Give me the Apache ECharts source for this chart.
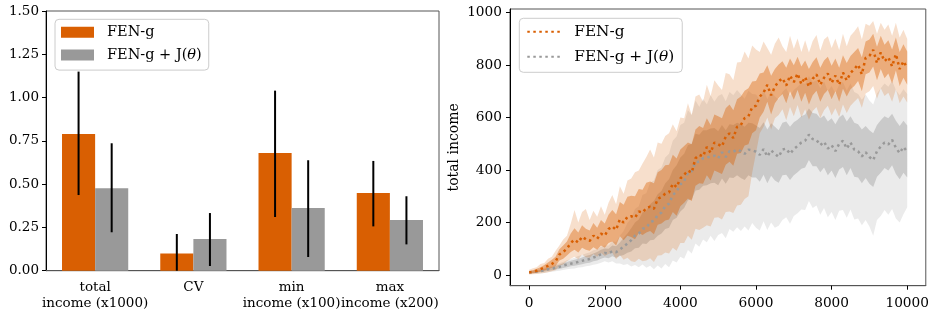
<!DOCTYPE html>
<html><head><meta charset="utf-8">
<script src="https://cdn.jsdelivr.net/npm/echarts@6/dist/echarts.min.js"></script>
<style>html,body{margin:0;padding:0;background:#fff}#c{width:932px;height:314px}</style>
</head><body><div id="c"></div>
<script>
// ---------- left panel data ----------
const barCategories = ['total\nincome (x1000)', 'CV', 'min\nincome (x100)', 'max\nincome (x200)'];
const fenMean     = [0.79, 0.10, 0.68, 0.449];
const fenErrLow   = [0.437, 0.0, 0.31, 0.256];
const fenErrHigh  = [1.15, 0.212, 1.04, 0.634];
const fenjMean    = [0.476, 0.183, 0.362, 0.293];
const fenjErrLow  = [0.222, 0.027, 0.079, 0.152];
const fenjErrHigh = [0.736, 0.333, 0.638, 0.43];
const leftYTicks  = [0, 0.25, 0.5, 0.75, 1.0, 1.25, 1.5];

// ---------- right panel data (step = 100 episodes, 0..10000) ----------
const rightXTicks = [0, 2000, 4000, 6000, 8000, 10000];
const rightYTicks = [0, 200, 400, 600, 800, 1000];
const oMean = [10,12,16,22,28,35,42,52,78,88,100,
  122,135,124,146,136,130,150,138,158,150,
  175,185,172,212,200,222,224,218,242,238,
  256,260,252,290,298,310,315,348,335,368,
  382,398,390,445,458,452,488,466,505,498,
  490,528,540,522,565,572,598,605,640,645,
  680,695,725,685,718,738,750,722,760,735,
  768,728,755,718,748,765,725,752,768,732,
  760,725,772,742,770,785,802,765,828,835,
  858,808,848,815,830,795,842,785,815,788];
const oInLo = [6,7,9,13,17,22,28,34,55,62,74,
  88,96,86,104,96,92,106,96,112,104,
  122,128,112,148,132,150,145,136,160,152,
  162,168,155,192,196,208,212,240,226,262,
  275,292,282,340,350,348,380,360,398,392,
  385,420,432,416,462,465,494,498,540,552,
  600,622,660,612,655,675,690,655,700,668,
  705,660,695,650,685,702,660,690,705,670,
  700,660,710,680,708,720,740,700,765,772,
  795,742,785,750,768,730,780,720,752,725];
const oInHi = [14,18,24,30,38,48,58,70,98,112,128,
  158,178,162,190,176,170,198,180,210,196,
  230,248,232,278,268,298,302,300,328,325,
  352,356,350,392,400,418,420,458,444,478,
  492,505,498,555,568,560,598,572,612,605,
  598,636,650,628,670,680,702,712,738,740,
  768,772,800,760,785,802,815,790,825,800,
  832,795,818,785,812,830,790,818,832,798,
  825,790,838,808,835,850,865,830,890,898,
  920,870,912,878,895,860,905,850,880,852];
const oOutLo = [2,3,4,6,8,10,14,18,35,40,52,
  62,70,60,78,68,66,80,70,84,72,
  80,85,60,76,58,66,52,50,62,52,
  55,64,50,74,75,86,82,104,92,122,
  122,150,134,176,172,180,190,185,218,220,
  212,240,242,236,265,268,290,300,390,465,
  540,565,600,555,598,610,632,590,640,605,
  648,600,632,592,625,640,598,628,645,608,
  636,602,650,618,645,660,675,638,692,700,
  720,672,712,682,695,660,708,655,680,658];
const oOutHi = [20,26,30,42,46,62,70,92,112,135,150,
  195,248,200,240,252,210,245,222,262,230,
  275,305,270,338,310,360,368,392,398,425,
  450,478,448,505,500,530,540,575,548,600,
  598,655,610,680,688,660,725,682,742,722,
  705,770,765,742,810,812,852,825,875,860,
  850,890,865,840,882,905,872,850,912,862,
  902,850,895,848,892,915,855,898,910,865,
  902,858,920,872,912,928,948,898,958,950,
  968,920,962,935,955,912,962,905,935,900];

const gMean = [10,11,13,15,18,22,24,28,31,36,40,
  43,46,50,54,58,61,67,71,79,84,
  82,91,87,97,108,120,133,150,158,176,
  180,200,208,228,238,262,272,305,318,345,
  358,390,395,430,432,445,448,452,455,445,
  468,450,472,470,478,472,462,478,475,470,
  458,480,452,475,462,450,478,482,462,480,
  492,505,512,535,518,515,495,508,482,495,
  472,500,512,482,505,478,472,452,468,450,
  438,472,490,505,498,515,485,465,488,470];
const gInLo = [7,8,9,11,13,16,18,21,23,27,30,
  33,35,38,41,45,47,52,55,62,67,
  64,71,66,72,76,85,90,102,104,120,
  118,132,134,150,158,175,180,210,218,242,
  255,285,288,322,325,340,342,350,352,342,
  368,348,372,370,380,370,362,380,372,372,
  355,382,350,378,360,352,380,382,362,380,
  392,405,410,438,415,415,392,410,380,398,
  370,402,412,380,408,375,372,350,370,348,
  335,375,390,408,398,418,385,365,390,372];
const gInHi = [13,14,17,19,23,28,30,35,39,45,50,
  54,58,62,67,72,76,82,88,96,101,
  100,112,110,124,142,158,178,200,212,238,
  246,270,282,308,320,350,365,400,418,448,
  462,495,500,538,535,552,552,558,560,548,
  572,552,575,572,580,575,565,580,578,570,
  560,582,555,578,565,552,580,585,565,582,
  592,605,612,635,618,615,598,608,585,598,
  575,600,612,585,605,580,575,555,568,552,
  540,572,590,605,598,615,588,568,588,570];
const gOutLo = [4,5,6,7,8,10,12,14,16,19,22,
  24,25,29,30,33,35,39,42,47,52,
  48,52,44,44,38,42,32,38,30,40,
  28,35,22,36,25,42,30,55,48,70,
  62,95,82,120,108,135,125,150,130,152,
  160,140,175,165,182,168,185,170,198,180,
  170,205,172,200,180,188,210,220,195,225,
  235,250,248,282,255,265,230,255,220,240,
  210,245,248,218,250,212,215,190,210,185,
  150,210,225,248,230,252,215,200,232,258];
const gOutHi = [16,18,21,23,28,32,36,40,45,50,56,
  61,66,72,76,82,86,94,98,108,112,
  112,128,126,150,168,198,215,252,262,305,
  312,352,360,400,410,448,462,512,528,572,
  580,628,610,665,640,672,650,685,660,682,
  690,662,698,685,705,688,672,702,690,688,
  668,705,670,700,680,668,698,712,682,705,
  718,732,728,758,735,742,712,738,700,720,
  692,725,735,702,730,698,690,668,688,665,
  650,692,712,730,718,740,705,685,708,690];

const steps = oMean.map((_, i) => i * 100);

// ---------- styling constants ----------
const ORANGE = '#d95f02';
const GRAY = '#999999';
const FONT = 'DejaVu Serif';
const BAR_RATIO = 0.337;

function errRender(sign) {
  return function (params, api) {
    const i = api.value(0);
    const p1 = api.coord([i, api.value(1)]);
    const p2 = api.coord([i, api.value(2)]);
    const half = api.size([1, 0])[0] * BAR_RATIO / 2;
    const x = p1[0] + sign * half;
    return { type: 'line', shape: { x1: x, y1: p1[1], x2: x, y2: p2[1] },
             style: { stroke: '#000', lineWidth: 2 } };
  };
}

function band(lo, hi, color, opacity, z) {
  return {
    type: 'custom', xAxisIndex: 1, yAxisIndex: 1, silent: true, z: z, clip: true,
    encode: { x: 0, y: 1 }, data: [[0, 0]],
    renderItem: function (params, api) {
      const pts = [];
      for (let i = 0; i < steps.length; i++) pts.push(api.coord([steps[i], hi[i]]));
      for (let i = steps.length - 1; i >= 0; i--) pts.push(api.coord([steps[i], lo[i]]));
      return { type: 'polygon', shape: { points: pts }, style: { fill: color, opacity: opacity } };
    }
  };
}

const legendNames = { lineF: 'FEN-g', lineJ: 'FEN-g + J({i|θ})', 'FEN-g': 'FEN-g', 'FEN-g + J(θ)': 'FEN-g + J({i|θ})' };

const chart = echarts.init(document.getElementById('c'), null, { renderer: 'canvas' });
chart.setOption({
  animation: false,
  backgroundColor: '#fff',
  textStyle: { fontFamily: FONT, color: '#000' },
  grid: [
    { left: 46, top: 11, right: 493, bottom: 43.3, show: true, borderColor: '#555', borderWidth: 1, containLabel: false },
    { left: 510, top: 9, right: 3, bottom: 28.3, show: true, borderColor: '#555', borderWidth: 1, containLabel: false }
  ],
  xAxis: [
    { type: 'category', gridIndex: 0, data: barCategories,
      axisLine: { lineStyle: { color: '#555', width: 1 } },
      axisTick: { alignWithLabel: true, length: 4, lineStyle: { color: '#000' } },
      axisLabel: { interval: 0, margin: 9, fontFamily: FONT, fontSize: 13.5, color: '#000', lineHeight: 16 },
      splitLine: { show: false } },
    { type: 'value', gridIndex: 1, min: -506, max: 10491,
      axisLine: { onZero: false, lineStyle: { color: '#555', width: 1 } },
      axisTick: { length: 4, lineStyle: { color: '#000' }, customValues: rightXTicks },
      axisLabel: { margin: 11, fontFamily: FONT, fontSize: 13.7, color: '#000', customValues: rightXTicks,
                   formatter: v => String(v) },
      splitLine: { show: false } }
  ],
  yAxis: [
    { type: 'value', gridIndex: 0, min: 0, max: 1.5, interval: 0.25,
      axisLine: { show: true, lineStyle: { color: '#000', width: 1 } },
      axisTick: { show: true, length: 4, lineStyle: { color: '#000' } },
      axisLabel: { margin: 7, fontFamily: FONT, fontSize: 13.5, color: '#000', formatter: v => v.toFixed(2) },
      splitLine: { show: false } },
    { type: 'value', gridIndex: 1, min: -40.8, max: 1014,
      name: 'total income', nameLocation: 'middle', nameGap: 49,
      nameTextStyle: { fontFamily: FONT, fontSize: 14, color: '#000' },
      axisLine: { show: true, onZero: false, lineStyle: { color: '#000', width: 1 } },
      axisTick: { show: true, length: 4, lineStyle: { color: '#000' }, customValues: rightYTicks },
      axisLabel: { margin: 8, fontFamily: FONT, fontSize: 13.7, color: '#000', customValues: rightYTicks,
                   formatter: v => String(v) },
      splitLine: { show: false } }
  ],
  legend: [
    { data: ['FEN-g', 'FEN-g + J(θ)'], orient: 'vertical', left: 55, top: 19.3,
      itemWidth: 33, itemHeight: 11, itemGap: 6.8, padding: [5, 7, 7, 6],
      backgroundColor: 'rgba(255,255,255,0.8)', borderColor: '#cccccc', borderWidth: 1, borderRadius: 4,
      icon: 'rect', selectedMode: false,
      formatter: n => legendNames[n],
      textStyle: { fontFamily: FONT, fontSize: 14.5, color: '#000', lineHeight: 16, padding: [0, 0, 0, 8],
                   rich: { i: { fontFamily: FONT, fontSize: 14.5, fontStyle: 'italic', color: '#000' } } } },
    { data: ['lineF', 'lineJ'], orient: 'vertical', left: 519.3, top: 18.3,
      itemWidth: 36, itemHeight: 14, itemGap: 8, padding: [5, 8, 7, 7],
      backgroundColor: 'rgba(255,255,255,0.8)', borderColor: '#cccccc', borderWidth: 1, borderRadius: 4,
      selectedMode: false,
      itemStyle: { opacity: 0, borderWidth: 0 },
      formatter: n => legendNames[n],
      textStyle: { fontFamily: FONT, fontSize: 15.3, color: '#000', lineHeight: 17, padding: [0, 0, 0, 6],
                   rich: { i: { fontFamily: FONT, fontSize: 15.3, fontStyle: 'italic', color: '#000' } } } }
  ],
  series: [
    { name: 'FEN-g', type: 'bar', xAxisIndex: 0, yAxisIndex: 0, data: fenMean,
      barWidth: (BAR_RATIO * 100) + '%', barGap: '0%', itemStyle: { color: ORANGE } },
    { name: 'FEN-g + J(θ)', type: 'bar', xAxisIndex: 0, yAxisIndex: 0, data: fenjMean,
      barWidth: (BAR_RATIO * 100) + '%', barGap: '0%', itemStyle: { color: GRAY } },
    { type: 'custom', xAxisIndex: 0, yAxisIndex: 0, renderItem: errRender(-1), z: 10, silent: true,
      encode: { x: 0, y: [1, 2] }, data: fenErrLow.map((lo, i) => [i, lo, fenErrHigh[i]]) },
    { type: 'custom', xAxisIndex: 0, yAxisIndex: 0, renderItem: errRender(1), z: 10, silent: true,
      encode: { x: 0, y: [1, 2] }, data: fenjErrLow.map((lo, i) => [i, lo, fenjErrHigh[i]]) },
    band(gOutLo, gOutHi, GRAY, 0.2, 1),
    band(gInLo, gInHi, GRAY, 0.4, 1),
    band(oOutLo, oOutHi, ORANGE, 0.2, 2),
    band(oInLo, oInHi, ORANGE, 0.4, 2),
    { name: 'lineJ', type: 'line', xAxisIndex: 1, yAxisIndex: 1, symbol: 'none', z: 5,
      data: steps.map((x, i) => [x, gMean[i]]),
      itemStyle: { color: GRAY }, lineStyle: { color: GRAY, width: 2.5, type: [2.5, 3.5], cap: 'butt' } },
    { name: 'lineF', type: 'line', xAxisIndex: 1, yAxisIndex: 1, symbol: 'none', z: 6,
      data: steps.map((x, i) => [x, oMean[i]]),
      itemStyle: { color: ORANGE }, lineStyle: { color: ORANGE, width: 2.5, type: [2.5, 3.5], cap: 'butt' } }
  ]
});
</script></body></html>
